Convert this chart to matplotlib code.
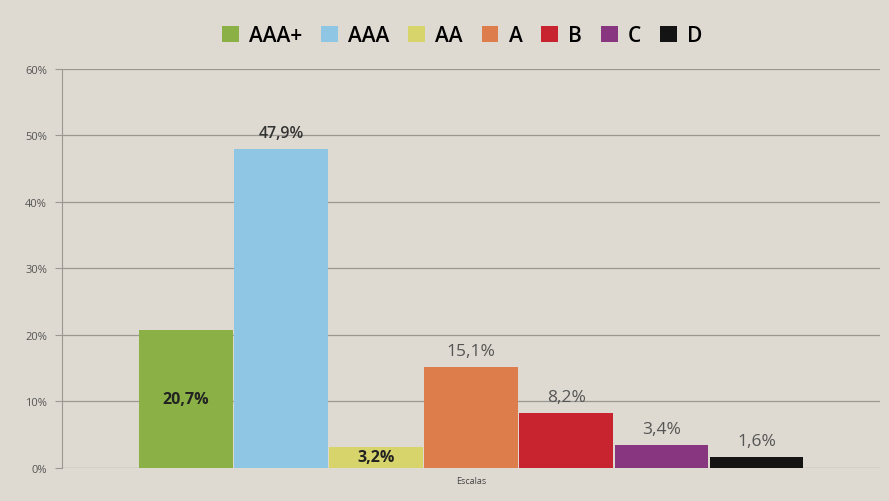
import numpy as np
import matplotlib.pyplot as plt
from matplotlib.patches import Patch

# data
categories = ['AAA+', 'AAA', 'AA', 'A', 'B', 'C', 'D']
values = [20.7, 47.9, 3.2, 15.1, 8.2, 3.4, 1.6]
labels = ['20,7%', '47,9%', '3,2%', '15,1%', '8,2%', '3,4%', '1,6%']
yticks = [0, 10, 20, 30, 40, 50, 60]

colors = ['#8bb146', '#8fc6e4', '#d8d46c', '#dd7d4c', '#c8242f', '#88367f', '#141414']
bg = '#dedad1'

plt.rcParams['font.family'] = ['Open Sans', 'DejaVu Sans']

fig = plt.figure(figsize=(8.89, 5.02), dpi=100, facecolor=bg)
ax = fig.add_axes([0.07, 0.066, 0.92, 0.795], facecolor=bg)

x = np.arange(len(categories))
ax.bar(x, values, width=0.985, color=colors, zorder=3)

# value labels: the first and third sit inside the bar, the rest above
for i, (v, lab) in enumerate(zip(values, labels)):
    if i in (0, 2):
        ax.text(i, v / 2, lab, ha='center', va='center', fontsize=11.5,
                fontweight='bold', color='#222222', zorder=4)
    elif i == 1:
        ax.text(i, v + 1.2, lab, ha='center', va='bottom', fontsize=11.5,
                fontweight='semibold', color='#333333', zorder=4)
    else:
        ax.text(i, v + 1.2, lab, ha='center', va='bottom', fontsize=12.5,
                color='#555555', zorder=4)

ax.set_xlim(-1.3, 7.3)
ax.set_ylim(0, 60)
ax.set_yticks(yticks)
ax.set_yticklabels([f'{t}%' for t in yticks], fontsize=8, color='#555555')
ax.set_xticks([3])
ax.set_xticklabels(['Escalas'], fontsize=6.5, color='#444444')
ax.tick_params(axis='x', length=0, pad=6)
ax.tick_params(axis='y', length=5, color='#9a9892', pad=6)

ax.grid(axis='y', color='#9a9892', linewidth=0.9, zorder=0)
for s in ['top', 'right', 'bottom']:
    ax.spines[s].set_visible(False)
ax.spines['left'].set_color('#9a9892')

handles = [Patch(facecolor=c, label=n) for c, n in zip(colors, categories)]
fig.legend(handles=handles, loc='upper center', bbox_to_anchor=(0.52, 0.985),
           ncol=7, frameon=False, handlelength=0.8, handleheight=0.8,
           handletextpad=0.5, columnspacing=0.9,
           prop={'size': 15, 'weight': 'semibold'})

fig.savefig('out.png', dpi=100, facecolor=bg)
